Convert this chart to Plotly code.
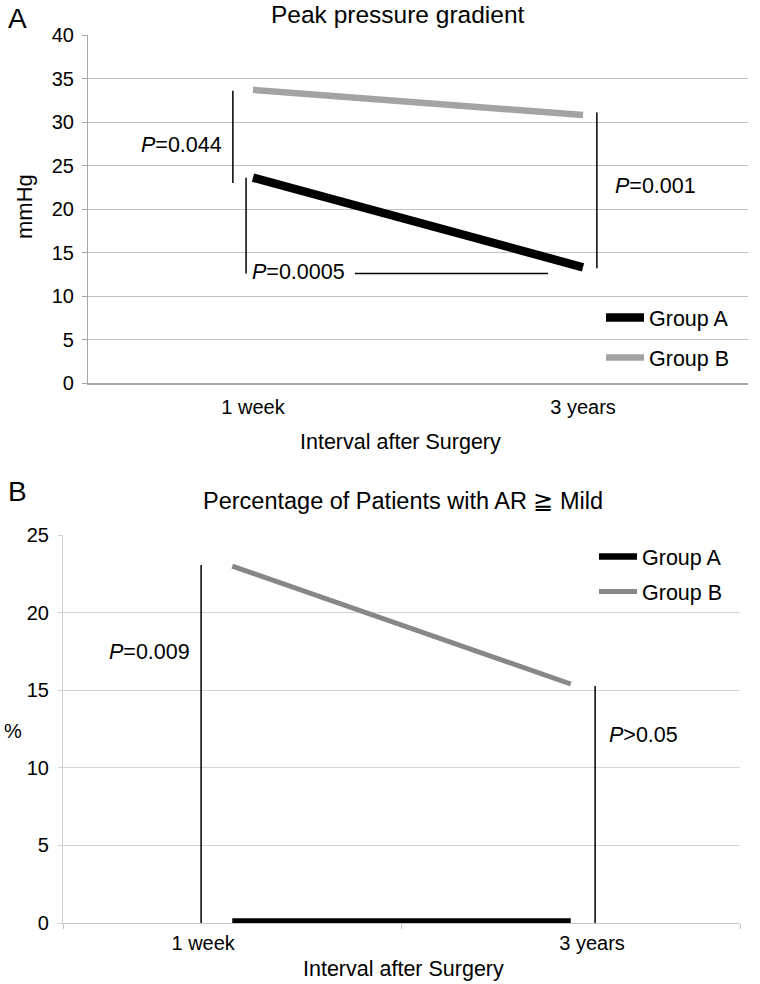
import plotly.graph_objects as go

# ---------------- data ----------------
categories = ["1 week", "3 years"]
ppg_group_a = [23.6, 13.3]   # Peak pressure gradient, mmHg
ppg_group_b = [33.7, 30.8]
ar_group_a = [0.1, 0.1]      # % patients with AR >= mild
ar_group_b = [23.0, 15.4]
ppg_ticks = [0, 5, 10, 15, 20, 25, 30, 35, 40]
ar_ticks = [0, 5, 10, 15, 20, 25]

W, H = 760, 984
FONT = "Liberation Sans, Arial, sans-serif"
xi = list(range(len(categories)))

def px(x):
    return x / W

def py(y):
    return 1 - y / H

fig = go.Figure()

fig.add_trace(go.Scatter(x=xi, y=ppg_group_a, mode="lines", name="Group A",
                         line=dict(color="#000000", width=8.5),
                         xaxis="x", yaxis="y", legend="legend", legendgroup="a1"))
fig.add_trace(go.Scatter(x=xi, y=ppg_group_b, mode="lines", name="Group B",
                         line=dict(color="#a3a3a3", width=6.5),
                         xaxis="x", yaxis="y", legend="legend", legendgroup="b1"))
fig.add_trace(go.Scatter(x=xi, y=ar_group_a, mode="lines", name="Group A",
                         line=dict(color="#000000", width=6.5),
                         xaxis="x2", yaxis="y2", legend="legend2", legendgroup="a2"))
fig.add_trace(go.Scatter(x=xi, y=ar_group_b, mode="lines", name="Group B",
                         line=dict(color="#878787", width=5),
                         xaxis="x2", yaxis="y2", legend="legend2", legendgroup="b2"))

tickfont = dict(family=FONT, size=20, color="#000")
ytickfont = dict(family=FONT, size=20, color="#000")

layout = dict(
    width=W, height=H,
    margin=dict(l=0, r=0, t=0, b=0, autoexpand=False),
    paper_bgcolor="white", plot_bgcolor="white",
    font=dict(family=FONT, color="#000"),
    xaxis=dict(domain=[px(88), px(748)], anchor="y", range=[-0.5, 1.5],
               tickmode="array", tickvals=xi, ticktext=categories,
               showgrid=False, zeroline=False, showline=True,
               linecolor="#a6a6a6", linewidth=1.5, ticks="",
               tickfont=tickfont, ticklabelstandoff=5),
    yaxis=dict(domain=[py(383), py(35)], anchor="x", range=[0, 40],
               tickmode="array", tickvals=ppg_ticks,
               showgrid=True, gridcolor="#c2c2c2", gridwidth=1.2,
               zeroline=False, showline=True, linecolor="#a6a6a6", linewidth=1.2,
               ticks="outside", ticklen=5, tickcolor="#a6a6a6",
               tickfont=ytickfont, ticklabelstandoff=4),
    xaxis2=dict(domain=[px(63), px(740)], anchor="y2", range=[-0.5, 1.5],
                tickmode="array", tickvals=[-0.086, 1.063], ticktext=categories,
                showgrid=False, zeroline=False, showline=True,
                linecolor="#c8c8c8", linewidth=1.2, ticks="",
                minor=dict(tickmode="array", tickvals=[-0.5, 0.5, 1.5],
                           ticks="outside", ticklen=5, tickcolor="#c8c8c8",
                           showgrid=False),
                tickfont=tickfont, ticklabelstandoff=2),
    yaxis2=dict(domain=[py(923), py(535)], anchor="x2", range=[0, 25],
                tickmode="array", tickvals=ar_ticks,
                showgrid=True, gridcolor="#d4d4d4", gridwidth=1.2,
                zeroline=False, showline=True, linecolor="#d0d0d0", linewidth=1.2,
                ticks="outside", ticklen=4, tickcolor="#d0d0d0",
                tickfont=ytickfont, ticklabelstandoff=5),
    legend=dict(x=px(601), y=py(297), xanchor="left", yanchor="top",
                font=dict(family=FONT, size=21.5, color="#000"),
                bgcolor="rgba(0,0,0,0)", tracegroupgap=9,
                itemwidth=38),
    legend2=dict(x=px(594), y=py(536), xanchor="left", yanchor="top",
                 font=dict(family=FONT, size=21.5, color="#000"),
                 bgcolor="rgba(0,0,0,0)", tracegroupgap=4,
                 itemwidth=38),
    showlegend=True,
)
fig.update_layout(**layout)

line_style = dict(color="#000000", width=1.5)
shapes = [
    dict(type="line", xref="x", yref="y", x0=-0.061, x1=-0.061, y0=33.6, y1=23.0, line=line_style),
    dict(type="line", xref="x", yref="y", x0=-0.021, x1=-0.021, y0=23.6, y1=12.6, line=line_style),
    dict(type="line", xref="x", yref="y", x0=0.309, x1=0.894, y0=12.6, y1=12.6, line=line_style),
    dict(type="line", xref="x", yref="y", x0=1.042, x1=1.042, y0=31.1, y1=13.2, line=line_style),
    dict(type="line", xref="x2", yref="y2", x0=-0.092, x1=-0.092, y0=23.07, y1=0, line=line_style),
    dict(type="line", xref="x2", yref="y2", x0=1.072, x1=1.072, y0=15.27, y1=0, line=line_style),
]
fig.update_layout(shapes=shapes)

afont = dict(family=FONT, size=21.5, color="#000")
annotations = [
    dict(text="<i>P</i>=0.044", xref="x", yref="y", x=-0.088, y=27.4,
         xanchor="right", yanchor="middle", showarrow=False, font=afont),
    dict(text="<i>P</i>=0.0005", xref="x", yref="y", x=-0.009, y=12.75,
         xanchor="left", yanchor="middle", showarrow=False, font=afont),
    dict(text="<i>P</i>=0.001", xref="x", yref="y", x=1.091, y=22.6,
         xanchor="left", yanchor="middle", showarrow=False, font=afont),
    dict(text="<i>P</i>=0.009", xref="x2", yref="y2", x=-0.119, y=17.46,
         xanchor="right", yanchor="middle", showarrow=False, font=afont),
    dict(text="<i>P</i>>0.05", xref="x2", yref="y2", x=1.107, y=12.1,
         xanchor="left", yanchor="middle", showarrow=False, font=afont),
    dict(text="A", xref="paper", yref="paper", x=px(17), y=py(18),
         xanchor="center", yanchor="middle", showarrow=False,
         font=dict(family=FONT, size=28, color="#000")),
    dict(text="B", xref="paper", yref="paper", x=px(17), y=py(491),
         xanchor="center", yanchor="middle", showarrow=False,
         font=dict(family=FONT, size=28, color="#000")),
    dict(text="Peak pressure gradient", xref="paper", yref="paper", x=px(398), y=py(14),
         xanchor="center", yanchor="middle", showarrow=False,
         font=dict(family=FONT, size=24.5, color="#000")),
    dict(text="Percentage of Patients with AR \u2267 Mild", xref="paper", yref="paper",
         x=px(403), y=py(501), xanchor="center", yanchor="middle", showarrow=False,
         font=dict(family=FONT, size=23.5, color="#000")),
    dict(text="Interval after Surgery", xref="paper", yref="paper", x=px(400), y=py(442),
         xanchor="center", yanchor="middle", showarrow=False,
         font=dict(family=FONT, size=21.5, color="#000")),
    dict(text="Interval after Surgery", xref="paper", yref="paper", x=px(403), y=py(969),
         xanchor="center", yanchor="middle", showarrow=False,
         font=dict(family=FONT, size=21.5, color="#000")),
    dict(text="mmHg", xref="paper", yref="paper", x=px(25), y=py(207),
         xanchor="center", yanchor="middle", showarrow=False, textangle=-90,
         font=dict(family=FONT, size=22, color="#000")),
    dict(text="%", xref="paper", yref="paper", x=px(13), y=py(731),
         xanchor="center", yanchor="middle", showarrow=False,
         font=dict(family=FONT, size=20, color="#000")),
]
fig.update_layout(annotations=annotations)

# remove the browser's default 8px body margin so the figure fills the window
fig.write_html("out.html", config={"displayModeBar": False},
               post_script="document.body.style.margin='0';")
